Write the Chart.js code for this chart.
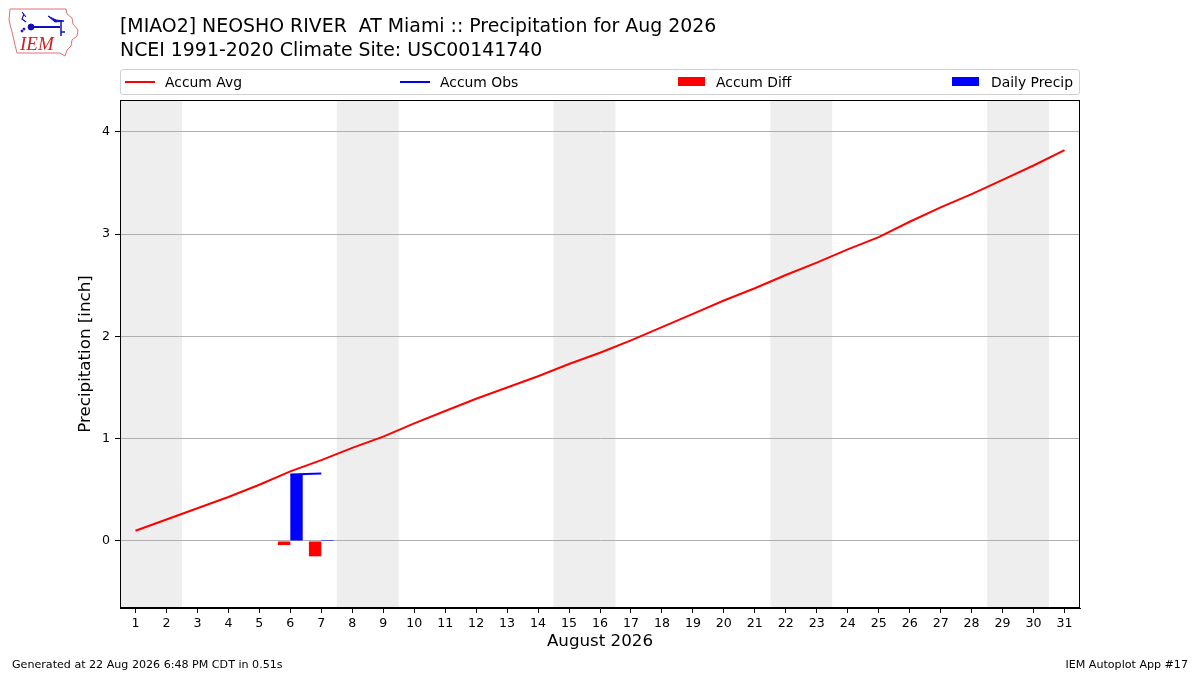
<!DOCTYPE html>
<html>
<head>
<meta charset="utf-8">
<script src="https://cdn.jsdelivr.net/npm/chart.js@4.4.0/dist/chart.umd.min.js"></script>
<style>
html,body{margin:0;padding:0;background:#fff;}
#wrap{position:relative;width:1200px;height:675px;overflow:hidden;font-family:"DejaVu Sans",sans-serif;color:#000;}
#c{position:absolute;left:0;top:0;width:1200px;height:675px;}
.t{position:absolute;white-space:pre;}
#title{left:120px;top:13px;font-size:18.9px;line-height:24px;}
#legend{position:absolute;left:120px;top:69px;width:958px;height:24px;border:1px solid #d0d0d0;border-radius:3px;background:rgba(255,255,255,0.8);}
.lt{position:absolute;font-size:13.9px;line-height:14px;top:5px;white-space:pre;}
.hl{position:absolute;height:2px;top:11px;width:30px;}
.hp{position:absolute;height:9px;top:7px;width:27px;}
.foot{position:absolute;font-size:11.1px;line-height:12px;top:659px;white-space:pre;}
</style>
</head>
<body>
<div id="wrap">
<canvas id="c" width="1200" height="675"></canvas>
<svg style="position:absolute;left:0;top:0" width="90" height="65" viewBox="0 0 90 65">
  <path d="M10,9 L66,9 L67,14 L72,18 L73,24 L78,30 L77,36 L72,40 L71,46 L67,50 L65,56 L60,53 L17,53 L15,45 L13,36 L11,28 L9,20 Z" fill="none" stroke="#e07070" stroke-width="1"/>
  <g stroke="#1010c0" fill="#1010c0">
    <line x1="31" y1="27" x2="60" y2="27" stroke-width="2"/>
    <circle cx="31" cy="27" r="3"/>
    <path d="M24,14 L22,19 L26,22 M22,12 L26,17" fill="none" stroke-width="1.2"/>
    <path d="M48,16 L56,20 L64,21 L55,22 Z"/>
    <line x1="61" y1="20" x2="61" y2="36" stroke-width="1.5"/>
    <line x1="61" y1="32" x2="65" y2="32" stroke-width="1.5"/>
    <circle cx="24" cy="29" r="1"/><circle cx="22" cy="31" r="1"/>
  </g>
  <text x="20" y="50" font-family="Liberation Serif,serif" font-style="italic" font-size="19" fill="#d02020">IEM</text>
</svg>
<div id="title" class="t">[MIAO2] NEOSHO RIVER  AT Miami :: Precipitation for Aug 2026
NCEI 1991-2020 Climate Site: USC00141740</div>
<div id="legend">
  <div class="hl" style="left:4px;background:#ff0000"></div>
  <div class="lt" style="left:44px">Accum Avg</div>
  <div class="hl" style="left:279px;background:#0000ff"></div>
  <div class="lt" style="left:319px">Accum Obs</div>
  <div class="hp" style="left:557px;background:#ff0000"></div>
  <div class="lt" style="left:595px">Accum Diff</div>
  <div class="hp" style="left:831px;background:#0000ff"></div>
  <div class="lt" style="left:870px">Daily Precip</div>
</div>
<div class="foot" style="left:12px">Generated at 22 Aug 2026 6:48 PM CDT in 0.51s</div>
<div class="foot" style="right:12px">IEM Autoplot App #17</div>
</div>
<script>
// ---- data ----
const days = [1,2,3,4,5,6,7,8,9,10,11,12,13,14,15,16,17,18,19,20,21,22,23,24,25,26,27,28,29,30,31];
const accumAvg = [0.10,0.21,0.32,0.43,0.55,0.68,0.79,0.91,1.02,1.15,1.27,1.39,1.50,1.61,1.73,1.84,1.96,2.09,2.22,2.35,2.47,2.60,2.72,2.85,2.97,3.12,3.26,3.39,3.53,3.67,3.82];
const obsDays = [6,7];
const accumObs = [0.65,0.66];
const accumDiff = [-0.04,-0.15];
const dailyPrecip = [0.65,0.01];
const yTicks = [0,1,2,3,4];
const weekendSpans = [[0.5,2.5],[7.5,9.5],[14.5,16.5],[21.5,23.5],[28.5,30.5]];
const xTitle = 'August 2026';
const yTitle = 'Precipitation [inch]';

const pts = (xs, ys) => xs.map((x,i)=>({x:x, y:ys[i]}));

const shading = {
  id:'shading',
  beforeDraw(chart){
    const {ctx, chartArea:a, scales:{x}} = chart;
    ctx.save();
    ctx.fillStyle = '#eeeeee';
    weekendSpans.forEach(([s,e])=>{
      const x0 = Math.max(a.left, x.getPixelForValue(s));
      const x1 = Math.min(a.right, x.getPixelForValue(e));
      ctx.fillRect(x0, a.top, x1-x0, a.bottom-a.top);
    });
    ctx.restore();
  },
  afterDraw(chart){
    const {ctx, chartArea:a} = chart;
    ctx.save();
    ctx.strokeStyle = '#000';
    ctx.lineWidth = 1;
    ctx.strokeRect(a.left+0.5, a.top+0.5, a.right-a.left-1, a.bottom-a.top-1);
    ctx.restore();
  }
};

new Chart(document.getElementById('c'), {
  type:'bar',
  data:{
    datasets:[
      {type:'line', label:'Accum Avg', data:pts(days, accumAvg), borderColor:'#ff0000', borderWidth:2, pointRadius:0, tension:0, fill:false},
      {type:'line', label:'Accum Obs', data:pts(obsDays, accumObs), borderColor:'#0000ff', borderWidth:2, pointRadius:0, tension:0, fill:false},
      {type:'bar', label:'Accum Diff', data:pts(obsDays, accumDiff), backgroundColor:'#ff0000', borderWidth:0, categoryPercentage:0.8, barPercentage:1.0},
      {type:'bar', label:'Daily Precip', data:pts(obsDays, dailyPrecip), backgroundColor:'#0000ff', borderWidth:0, categoryPercentage:0.8, barPercentage:1.0}
    ]
  },
  options:{
    responsive:false,
    animation:false,
    devicePixelRatio:1,
    layout:{padding:{left:0, top:100, right:120, bottom:0}},
    plugins:{legend:{display:false}, tooltip:{enabled:false}, title:{display:false}},
    scales:{
      x:{
        type:'linear', min:0.5, max:31.5, offset:false,
        afterBuildTicks(s){ s.ticks = days.map(v=>({value:v})); },
        afterFit(s){ s.height = 67; },
        grid:{display:true, drawOnChartArea:false, drawTicks:true, tickLength:5, color:'#000', offset:false},
        border:{display:true, color:'#000', width:1},
        ticks:{autoSkip:false, maxRotation:0, padding:3, color:'#000', font:{family:'DejaVu Sans', size:12.6}},
        title:{display:true, text:xTitle, color:'#000', font:{family:'DejaVu Sans', size:16.7}, padding:{top:0, bottom:23}}
      },
      y:{
        type:'linear', min:-0.655, max:4.31,
        afterBuildTicks(s){ s.ticks = yTicks.map(v=>({value:v})); },
        afterFit(s){ s.width = 120; },
        grid:{display:true, drawOnChartArea:true, drawTicks:true, tickLength:5, color:'#b0b0b0', tickColor:'#000', lineWidth:1},
        border:{display:true, color:'#000', width:1},
        ticks:{padding:5, color:'#000', font:{family:'DejaVu Sans', size:12.6}},
        title:{display:true, text:yTitle, color:'#000', font:{family:'DejaVu Sans', size:16.7}, padding:{top:76, bottom:0}}
      }
    }
  },
  plugins:[shading]
});
</script>
</body>
</html>
